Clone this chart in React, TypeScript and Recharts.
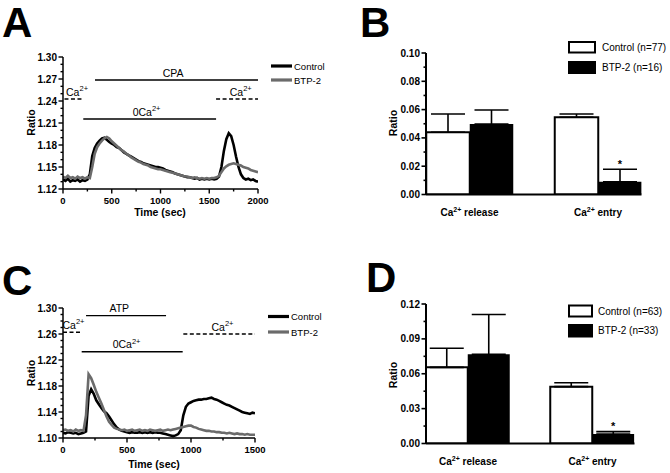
import React from 'react'
import {
  LineChart, Line, BarChart, Bar, XAxis, YAxis,
  ReferenceLine, ErrorBar, LabelList,
} from 'recharts'

const FONT = '"Liberation Sans", Arial, Helvetica, sans-serif'
const GRAY = '#6b6b6b'

// ---------- A : CPA protocol, Fura-2 ratio traces
const timeA = [
  0, 25, 50, 75, 100, 125, 150, 175, 200, 225,
  250, 275, 300, 325, 350, 375, 400, 425, 450, 475,
  500, 525, 550, 575, 600, 625, 650, 675, 700, 725,
  750, 775, 800, 825, 850, 875, 900, 925, 950, 975,
  1000, 1025, 1050, 1075, 1100, 1125, 1150, 1175, 1200, 1225,
  1250, 1275, 1300, 1325, 1350, 1375, 1400, 1425, 1450, 1475,
  1500, 1525, 1550, 1575, 1600, 1625, 1650, 1675, 1700, 1725,
  1750, 1775, 1800, 1825, 1850, 1875, 1900, 1925, 1950, 1975,
  2000,
]
const controlA = [
  1.133, 1.131, 1.134, 1.130, 1.132, 1.131, 1.133, 1.130, 1.132, 1.131,
  1.133, 1.140, 1.165, 1.176, 1.182, 1.186, 1.189, 1.190, 1.187, 1.184,
  1.182, 1.180, 1.177, 1.176, 1.173, 1.170, 1.168, 1.166, 1.164, 1.162,
  1.160, 1.158, 1.157, 1.155, 1.154, 1.153, 1.152, 1.151, 1.150, 1.150,
  1.149, 1.148, 1.146, 1.145, 1.144, 1.143, 1.141, 1.140, 1.139, 1.138,
  1.137, 1.136, 1.136, 1.135, 1.134, 1.135, 1.133, 1.134, 1.133, 1.134,
  1.133, 1.134, 1.133, 1.134, 1.137, 1.150, 1.172, 1.188, 1.196, 1.192,
  1.180, 1.164, 1.150, 1.140, 1.135, 1.133, 1.134, 1.132, 1.133, 1.131,
  1.130,
]
const btpA = [
  1.137, 1.135, 1.138, 1.135, 1.136, 1.134, 1.137, 1.135, 1.136, 1.134,
  1.136, 1.135, 1.150, 1.168, 1.177, 1.182, 1.186, 1.189, 1.191, 1.189,
  1.185, 1.182, 1.179, 1.176, 1.173, 1.171, 1.168, 1.166, 1.163, 1.161,
  1.159, 1.157, 1.156, 1.154, 1.153, 1.152, 1.150, 1.149, 1.148, 1.147,
  1.147, 1.146, 1.145, 1.144, 1.143, 1.142, 1.141, 1.140, 1.139, 1.138,
  1.137, 1.137, 1.136, 1.135, 1.136, 1.135, 1.134, 1.135, 1.134, 1.135,
  1.134, 1.135, 1.135, 1.136, 1.138, 1.143, 1.148, 1.151, 1.153, 1.154,
  1.155, 1.154, 1.153, 1.152, 1.150, 1.149, 1.148, 1.146, 1.145, 1.144,
  1.143,
]
const yTicksA = [1.12, 1.13, 1.14, 1.15, 1.16, 1.17, 1.18, 1.19, 1.20, 1.21, 1.22, 1.23, 1.24, 1.25, 1.26, 1.27, 1.28, 1.29, 1.30]
const yMajorA = [1.12, 1.15, 1.18, 1.21, 1.24, 1.27, 1.30]
const xTicksA = [0, 250, 500, 750, 1000, 1250, 1500, 1750, 2000]
const xMajorA = [0, 500, 1000, 1500, 2000]
const annotA = [
  { text: 'CPA', sup: '', x1: 328, x2: 2000, y: 1.2686, labelX: 1130, dashed: false },
  { text: '0Ca', sup: '2+', x1: 208, x2: 1570, y: 1.2154, labelX: 857, dashed: false },
  { text: 'Ca', sup: '2+', x1: 15, x2: 192, y: 1.2427, labelX: 144, dashed: true },
  { text: 'Ca', sup: '2+', x1: 1570, x2: 2000, y: 1.2427, labelX: 1823, dashed: true },
]

// ---------- C : ATP protocol
const timeC = [
  0, 20, 40, 60, 80, 100, 120, 140, 160, 180,
  200, 220, 240, 260, 280, 300, 320, 340, 360, 380,
  400, 420, 440, 460, 480, 500, 520, 540, 560, 580,
  600, 620, 640, 660, 680, 700, 720, 740, 760, 780,
  800, 820, 840, 860, 880, 900, 920, 940, 960, 980,
  1000, 1020, 1040, 1060, 1080, 1100, 1120, 1140, 1160, 1180,
  1200, 1220, 1240, 1260, 1280, 1300, 1320, 1340, 1360, 1380,
  1400, 1420, 1440, 1460, 1480, 1500,
]
const controlC = [
  1.108, 1.107, 1.109, 1.108, 1.107, 1.108, 1.106, 1.107, 1.108, 1.110,
  1.165, 1.175, 1.168, 1.158, 1.152, 1.146, 1.141, 1.138, 1.133, 1.127,
  1.121, 1.116, 1.113, 1.111, 1.110, 1.109, 1.108, 1.109, 1.108, 1.108,
  1.109, 1.108, 1.109, 1.108, 1.109, 1.108, 1.109, 1.108, 1.108, 1.107,
  1.106, 1.105, 1.104, 1.103, 1.104, 1.106, 1.112, 1.135, 1.148, 1.153,
  1.155, 1.157, 1.158, 1.159, 1.159, 1.160, 1.160, 1.161, 1.162, 1.160,
  1.159, 1.157, 1.155, 1.153, 1.151, 1.150, 1.148, 1.146, 1.144, 1.142,
  1.140, 1.139, 1.138, 1.137, 1.139, 1.138,
]
const btpC = [
  1.112, 1.113, 1.111, 1.112, 1.110, 1.113, 1.111, 1.112, 1.111, 1.135,
  1.198, 1.192, 1.182, 1.171, 1.162, 1.153, 1.143, 1.133, 1.125, 1.120,
  1.116, 1.114, 1.113, 1.112, 1.113, 1.111, 1.112, 1.113, 1.111, 1.112,
  1.113, 1.111, 1.112, 1.111, 1.113, 1.112, 1.111, 1.112, 1.113, 1.111,
  1.112, 1.113, 1.112, 1.113, 1.114, 1.115, 1.116, 1.117, 1.118, 1.119,
  1.119, 1.117, 1.116, 1.114, 1.113, 1.112, 1.111, 1.111, 1.110, 1.110,
  1.109, 1.109, 1.108, 1.108, 1.107, 1.108, 1.107, 1.106, 1.107, 1.106,
  1.106, 1.105, 1.106, 1.105, 1.105, 1.105,
]
const yTicksC = [1.10, 1.11, 1.12, 1.13, 1.14, 1.15, 1.16, 1.17, 1.18, 1.19, 1.20, 1.21, 1.22, 1.23, 1.24, 1.25, 1.26, 1.27, 1.28, 1.29, 1.30]
const yMajorC = [1.10, 1.14, 1.18, 1.22, 1.26, 1.30]
const xTicksC = [0, 250, 500, 750, 1000, 1250, 1500]
const xMajorC = [0, 500, 1000, 1500]
const annotC = [
  { text: 'ATP', sup: '', x1: 180, x2: 805, y: 1.2882, labelX: 440, dashed: false },
  { text: '0Ca', sup: '2+', x1: 146, x2: 935, y: 1.2328, labelX: 497, dashed: false },
  { text: 'Ca', sup: '2+', x1: 0, x2: 133, y: 1.2626, labelX: 82, dashed: true },
  { text: 'Ca', sup: '2+', x1: 940, x2: 1500, y: 1.2600, labelX: 1246, dashed: true },
]

// ---------- B / D : summary bars (mean + SEM)
const groups = ['release', 'entry']
const groupPos = [1, 2]

const controlB = [0.0440, 0.0546]
const controlBErr = [0.0129, 0.0023]
const btpB = [0.0498, 0.0090]
const btpBErr = [0.0099, 0.0088]
const starB = [false, true]
const yTicksB = [0, 0.01, 0.02, 0.03, 0.04, 0.05, 0.06, 0.07, 0.08, 0.09, 0.10]
const yMajorB = [0, 0.02, 0.04, 0.06, 0.08, 0.10]

const controlD = [0.0655, 0.0489]
const controlDErr = [0.0164, 0.0034]
const btpD = [0.0767, 0.0082]
const btpDErr = [0.0343, 0.0020]
const starD = [false, true]
const yTicksD = [0, 0.015, 0.03, 0.045, 0.06, 0.075, 0.09, 0.105, 0.12]
const yMajorD = [0, 0.03, 0.06, 0.09, 0.12]

const isMajor = (v: number, majors: number[]) => majors.some(m => Math.abs(m - v) < 1e-6)

const makeYTick = (majors: number[], fs: number, axisW: number) => (props: any) => {
  const { x, y, payload } = props
  const major = isMajor(payload.value, majors)
  return (
    <g>
      <line x1={x - (major ? 4.5 : 2.5)} x2={x} y1={y} y2={y} stroke="#000" strokeWidth={axisW} />
      {major && (
        <text x={x - 6} y={y + 3.5} textAnchor="end" fontSize={fs} fontWeight="bold" fontFamily={FONT} fill="#000">
          {Number(payload.value).toFixed(2)}
        </text>
      )}
    </g>
  )
}

const makeXTick = (majors: number[]) => (props: any) => {
  const { x, y, payload } = props
  const major = isMajor(payload.value, majors)
  return (
    <g>
      <line x1={x} x2={x} y1={y} y2={y + (major ? 4.5 : 2.5)} stroke="#000" strokeWidth={1.4} />
      {major && (
        <text x={x} y={y + 14.5} textAnchor="middle" fontSize={9.5} fontWeight="bold" fontFamily={FONT} fill="#000">
          {payload.value}
        </text>
      )}
    </g>
  )
}

const annotLabel = (a: any) => (p: any) => {
  const vb = p.viewBox || {}
  const frac = (a.labelX - a.x1) / (a.x2 - a.x1)
  const x = vb.x + (vb.width || 0) * frac
  return (
    <text x={x} y={vb.y - 3.5} textAnchor="middle" fontSize={10.5} fontFamily={FONT} fill="#000">
      {a.text}
      {a.sup && <tspan dy={-4.5} fontSize={7.5}>{a.sup}</tspan>}
    </text>
  )
}

function TracePanel(props: any) {
  const { time, control, btp, xDomain, yDomain, xTicks, xMajor, yTicks, yMajor, annots, width, height, margin } = props
  const rows = time.map((t: number, i: number) => ({ t, control: control[i], btp: btp[i] }))
  return (
    <LineChart width={width} height={height} data={rows} margin={margin}>
      <XAxis type="number" dataKey="t" domain={xDomain} ticks={xTicks} interval={0} allowDataOverflow
        tickSize={0} tickMargin={0} tickLine={false} tick={makeXTick(xMajor)} height={20}
        axisLine={{ stroke: '#000', strokeWidth: 1.5 }} />
      <YAxis type="number" domain={yDomain} ticks={yTicks} interval={0} allowDataOverflow
        tickSize={0} tickMargin={0} tickLine={false} tick={makeYTick(yMajor, 10, 1.4)} width={50}
        axisLine={{ stroke: '#000', strokeWidth: 1.5 }} />
      {annots.map((a: any, i: number) => (
        <ReferenceLine key={i} segment={[{ x: a.x1, y: a.y }, { x: a.x2, y: a.y }]} ifOverflow="visible"
          stroke="#000" strokeWidth={1.4} strokeDasharray={a.dashed ? '4 2.5' : undefined}
          label={{ content: annotLabel(a) }} />
      ))}
      <Line type="linear" dataKey="control" stroke="#000" strokeWidth={2.6} dot={false} isAnimationActive={false} />
      <Line type="linear" dataKey="btp" stroke={GRAY} strokeWidth={2.6} dot={false} isAnimationActive={false} />
    </LineChart>
  )
}

const catTick = (props: any) => {
  const { x, y, payload } = props
  const i = groupPos.indexOf(payload.value)
  return (
    <text x={x} y={y + 21} textAnchor="middle" fontSize={10} fontWeight="bold" fontFamily={FONT} fill="#000">
      Ca<tspan dy={-4} fontSize={7}>2+</tspan><tspan dy={4}>{' ' + groups[i]}</tspan>
    </text>
  )
}

function BarPanel(props: any) {
  const { control, controlErr, btp, btpErr, star, yDomain, yTicks, yMajor, barSize, groupPx, width, height, margin } = props
  const rows = groupPos.map((pos, i) => ({
    pos,
    control: control[i],
    controlErr: [0, controlErr[i]],
    btp: btp[i],
    btpErr: [0, btpErr[i]],
  }))
  // the bar pair of each group starts right at the y axis: pad the domain by one bar width
  const pad = barSize / groupPx
  const starContent = (p: any) => {
    if (!star[p.index]) return null
    const k = p.height / p.value
    const top = p.y - btpErr[p.index] * k
    return (
      <text x={p.x + p.width / 2} y={top - 1.5} textAnchor="middle" fontSize={11} fontWeight="bold" fontFamily={FONT} fill="#000">*</text>
    )
  }
  return (
    <BarChart width={width} height={height} data={rows} margin={margin} barGap={0} barSize={barSize}>
      <XAxis type="number" dataKey="pos" domain={[1 - pad, 2 + pad]} ticks={groupPos} interval={0} allowDataOverflow
        tickSize={0} tickMargin={0} tickLine={false} tick={catTick} height={20}
        axisLine={{ stroke: '#000', strokeWidth: 2 }} />
      <YAxis type="number" domain={yDomain} ticks={yTicks} interval={0} allowDataOverflow
        tickSize={0} tickMargin={0} tickLine={false} tick={makeYTick(yMajor, 10, 1.6)} width={50}
        axisLine={{ stroke: '#000', strokeWidth: 2 }} />
      <Bar dataKey="control" fill="#fff" stroke="#000" strokeWidth={2} isAnimationActive={false}>
        <ErrorBar dataKey="controlErr" direction="y" width={17} stroke="#000" strokeWidth={1.6} />
      </Bar>
      <Bar dataKey="btp" fill="#000" isAnimationActive={false}>
        <ErrorBar dataKey="btpErr" direction="y" width={17} stroke="#000" strokeWidth={1.6} />
        <LabelList dataKey="btp" content={starContent} />
      </Bar>
    </BarChart>
  )
}

function Overlay() {
  const t = { fontFamily: FONT, fill: '#000' }
  const lineLegend = (x: number, y: number, color: string, label: string) => (
    <g>
      <line x1={x} x2={x + 21} y1={y} y2={y} stroke={color} strokeWidth={3.2} />
      <text x={x + 23} y={y + 3.5} fontSize={9.5} {...t}>{label}</text>
    </g>
  )
  const boxLegend = (x: number, y: number, w: number, h: number, filled: boolean, label: string, tx: number) => (
    <g>
      <rect x={x} y={y} width={w} height={h} fill={filled ? '#000' : '#fff'} stroke="#000" strokeWidth={2} />
      <text x={tx} y={y + h / 2 + 3.5} fontSize={10} {...t}>{label}</text>
    </g>
  )
  return (
    <svg width={670} height={473} style={{ position: 'absolute', left: 0, top: 0, pointerEvents: 'none' }}>
      <text x={2} y={37} fontSize={42} fontWeight="bold" {...t}>A</text>
      <text x={360} y={37} fontSize={42} fontWeight="bold" {...t}>B</text>
      <text x={2} y={295} fontSize={42} fontWeight="bold" {...t}>C</text>
      <text x={366} y={292} fontSize={42} fontWeight="bold" {...t}>D</text>

      <text x={35} y={122.5} fontSize={10.5} fontWeight="bold" textAnchor="middle" transform="rotate(-90 35 122.5)" {...t}>Ratio</text>
      <text x={397} y={123} fontSize={10.5} fontWeight="bold" textAnchor="middle" transform="rotate(-90 397 123)" {...t}>Ratio</text>
      <text x={35} y={373} fontSize={10.5} fontWeight="bold" textAnchor="middle" transform="rotate(-90 35 373)" {...t}>Ratio</text>
      <text x={397} y={375} fontSize={10.5} fontWeight="bold" textAnchor="middle" transform="rotate(-90 397 375)" {...t}>Ratio</text>

      <text x={160} y={216} fontSize={10.5} fontWeight="bold" textAnchor="middle" {...t}>Time (sec)</text>
      <text x={154} y={468} fontSize={10.5} fontWeight="bold" textAnchor="middle" {...t}>Time (sec)</text>

      {lineLegend(271, 66, '#000', 'Control')}
      {lineLegend(271, 80, GRAY, 'BTP-2')}
      {lineLegend(268, 316.5, '#000', 'Control')}
      {lineLegend(268, 332, GRAY, 'BTP-2')}

      {boxLegend(569, 42, 26, 10.5, false, 'Control (n=77)', 602)}
      {boxLegend(569, 62, 26, 11, true, 'BTP-2 (n=16)', 602)}
      {boxLegend(569, 305.5, 23, 11, false, 'Control (n=63)', 598)}
      {boxLegend(569, 325, 23, 11.5, true, 'BTP-2 (n=33)', 598)}
    </svg>
  )
}

export default function App() {
  return (
    <div style={{ position: 'absolute', left: 0, top: 0, width: 670, height: 473, background: '#fff', fontFamily: FONT }}>
      <div style={{ position: 'absolute', left: 0, top: 0 }}>
        <TracePanel time={timeA} control={controlA} btp={btpA} xDomain={[0, 2000]} yDomain={[1.12, 1.30]}
          xTicks={xTicksA} xMajor={xMajorA} yTicks={yTicksA} yMajor={yMajorA} annots={annotA}
          width={340} height={230} margin={{ top: 57, right: 82, bottom: 21, left: 13 }} />
      </div>
      <div style={{ position: 'absolute', left: 0, top: 235 }}>
        <TracePanel time={timeC} control={controlC} btp={btpC} xDomain={[0, 1500]} yDomain={[1.10, 1.30]}
          xTicks={xTicksC} xMajor={xMajorC} yTicks={yTicksC} yMajor={yMajorC} annots={annotC}
          width={340} height={238} margin={{ top: 73, right: 85, bottom: 15, left: 13 }} />
      </div>
      <div style={{ position: 'absolute', left: 340, top: 0 }}>
        <BarPanel control={controlB} controlErr={controlBErr} btp={btpB} btpErr={btpBErr} star={starB}
          yDomain={[0, 0.10]} yTicks={yTicksB} yMajor={yMajorB} barSize={43.5} groupPx={128.5}
          width={330} height={230} margin={{ top: 53, right: 28.5, bottom: 15.5, left: 36 }} />
      </div>
      <div style={{ position: 'absolute', left: 340, top: 235 }}>
        <BarPanel control={controlD} controlErr={controlDErr} btp={btpD} btpErr={btpDErr} star={starD}
          yDomain={[0, 0.12]} yTicks={yTicksD} yMajor={yMajorD} barSize={42} groupPx={124.5}
          width={330} height={238} margin={{ top: 69, right: 35.5, bottom: 9.5, left: 36 }} />
      </div>
      <Overlay />
    </div>
  )
}
